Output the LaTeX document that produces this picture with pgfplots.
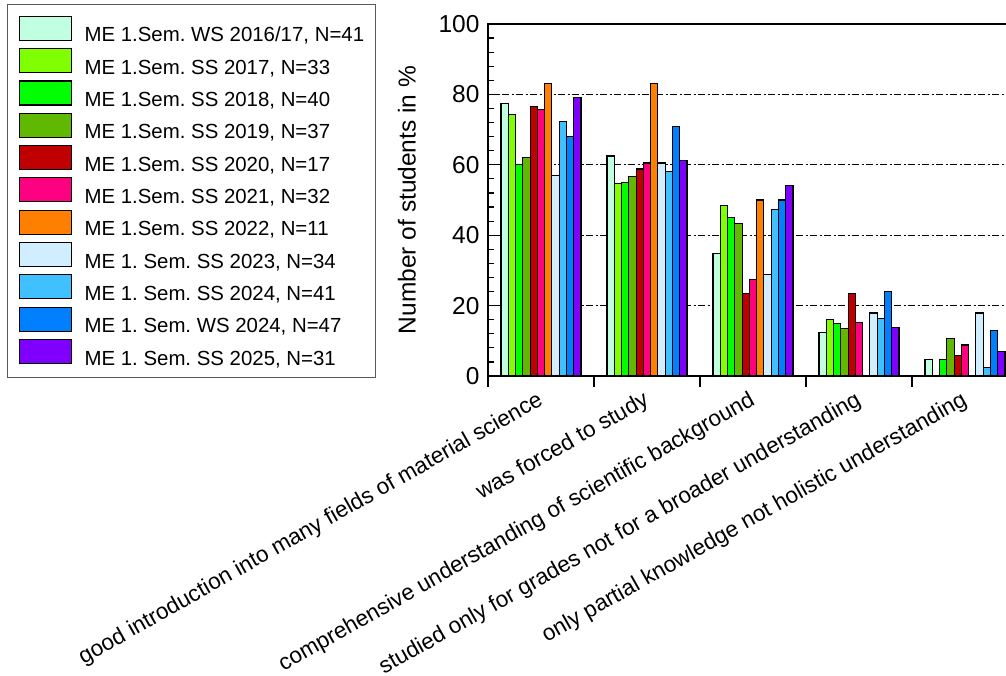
\documentclass[border=0pt]{standalone}
\usepackage{pgfplots}
\pgfplotsset{compat=1.18}
\usepackage{fontspec}
\setmainfont{Liberation Sans}
\frenchspacing
\definecolor{c1}{RGB}{192,255,224}
\definecolor{c2}{RGB}{128,255,0}
\definecolor{c3}{RGB}{0,255,0}
\definecolor{c4}{RGB}{96,184,0}
\definecolor{c5}{RGB}{192,0,0}
\definecolor{c6}{RGB}{255,0,128}
\definecolor{c7}{RGB}{255,128,0}
\definecolor{c8}{RGB}{208,238,255}
\definecolor{c9}{RGB}{64,192,255}
\definecolor{c10}{RGB}{0,128,255}
\definecolor{c11}{RGB}{128,0,255}
\begin{document}
\begin{tikzpicture}[x=1pt,y=1pt]
\useasboundingbox (0,0) rectangle (1006,676);
\clip (0,0) rectangle (1006,676);
\begin{axis}[
  at={(488pt,300pt)}, anchor=south west,
  scale only axis, width=530pt, height=352pt,
  xmin=0, xmax=5, ymin=0, ymax=100,
  ybar=0pt, bar width=7.27pt,
  axis line style={line width=1.3pt},
  xtick={0,1,2,3,4,5}, xticklabels={}, xtick pos=bottom,
  xtick align=outside,
  ytick={0,20,40,60,80,100}, ytick pos=left, ytick align=inside,
  minor y tick num=4,
  major tick length=11pt, minor tick length=6pt,
  tick style={line width=1.2pt, black},
  ymajorgrids,
  grid style={black, line width=1.2pt, dash pattern=on 7pt off 2.5pt on 2pt off 2.5pt},
  /pgf/number format/assume math mode=true,
  yticklabel style={font=\fontsize{24.5}{28}\selectfont, xshift=-5pt},
  ylabel={Number of students in \%},
  ylabel style={font=\fontsize{24.5}{28}\selectfont, at={(axis description cs:-0.153,0.5)}, anchor=center},
  extra x ticks={0.5,1.5,2.5,3.5,4.5},
  extra x tick labels={good introduction into many fields of material science, was forced to study, comprehensive understanding of scientific background, studied only for grades not for a broader understanding, only partial knowledge not holistic understanding},
  extra x tick style={major tick length=0pt, tick style={draw=none}, grid=none,
    xticklabel style={rotate=29.5, anchor=north east, inner sep=0pt, xshift=-11pt, yshift=-9.5pt, font=\fontsize{22.5}{26}\selectfont}},
  every axis plot/.append style={draw=black, line width=1.1pt},
  every axis plot post/.append style={legend image code/.code={\draw[##1] (0pt,-4.7pt) rectangle (52pt,19.3pt);}},
  legend style={at={(axis description cs:-0.9075,1.0568)}, anchor=north west,
    draw=black!65, line width=1pt, fill=white,
    font=\fontsize{20.4}{17}\selectfont,
    inner xsep=11pt, inner ysep=11pt, row sep=4.6pt,
    nodes={inner sep=0pt},
    /tikz/every odd column/.append style={column sep=13pt},
    /tikz/every even column/.append style={column sep=7pt}},
  legend cell align=left,
]
\addplot[fill=c1]  coordinates {(0.5,77.5) (1.5,62.5) (2.5,34.8) (3.5,12.4) (4.5,4.8)};
\addplot[fill=c2]  coordinates {(0.5,74.2) (1.5,54.7) (2.5,48.4) (3.5,16.0) (4.5,0)};
\addplot[fill=c3]  coordinates {(0.5,60.0) (1.5,54.9) (2.5,45.0) (3.5,15.0) (4.5,4.8)};
\addplot[fill=c4]  coordinates {(0.5,62.1) (1.5,56.7) (2.5,43.2) (3.5,13.4) (4.5,10.7)};
\addplot[fill=c5]  coordinates {(0.5,76.5) (1.5,58.8) (2.5,23.5) (3.5,23.4) (4.5,5.7)};
\addplot[fill=c6]  coordinates {(0.5,75.8) (1.5,60.5) (2.5,27.3) (3.5,15.2) (4.5,8.8)};
\addplot[fill=c7]  coordinates {(0.5,83.0) (1.5,83.0) (2.5,50.0) (3.5,0) (4.5,0)};
\addplot[fill=c8]  coordinates {(0.5,57.0) (1.5,60.5) (2.5,28.9) (3.5,17.9) (4.5,17.9)};
\addplot[fill=c9]  coordinates {(0.5,72.2) (1.5,58.2) (2.5,47.2) (3.5,16.4) (4.5,2.5)};
\addplot[fill=c10] coordinates {(0.5,68.1) (1.5,71.0) (2.5,50.0) (3.5,23.9) (4.5,12.9)};
\addplot[fill=c11] coordinates {(0.5,79.0) (1.5,61.1) (2.5,54.1) (3.5,13.8) (4.5,6.9)};
\legend{ME 1.Sem. WS 2016/17{,} N=41, ME 1.Sem. SS 2017{,} N=33, ME 1.Sem. SS 2018{,} N=40, ME 1.Sem. SS 2019{,} N=37, ME 1.Sem. SS 2020{,} N=17, ME 1.Sem. SS 2021{,} N=32, ME 1.Sem. SS 2022{,} N=11, ME 1. Sem. SS 2023{,} N=34, ME 1. Sem. SS 2024{,} N=41, ME 1. Sem. WS 2024{,} N=47, ME 1. Sem. SS 2025{,} N=31}
\end{axis}
\end{tikzpicture}
\end{document}
